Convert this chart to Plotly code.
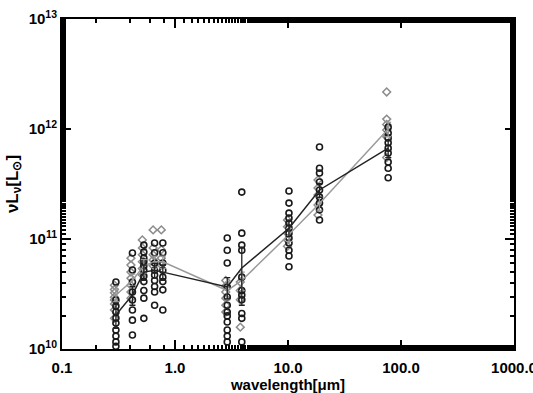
import plotly.graph_objects as go

# band wavelengths (micron)
bands = [0.3, 0.42, 0.53, 0.66, 0.78, 2.9, 3.9, 10.2, 19.0, 77.0]

# individual measurements, units of 1e10 Lsun (black open circles)
circ = {
    0.3: [4.06, 2.79, 2.46, 2.17, 1.91, 1.72, 1.49, 1.31, 1.16, 1.06],
    0.42: [7.46, 5.23, 4.06, 3.30, 2.79, 2.26, 1.83, 1.34],
    0.53: [8.8, 7.6, 6.7, 6.2, 5.7, 5.2, 4.6, 4.1, 3.4, 2.9, 1.9],
    0.66: [9.2, 7.5, 6.05, 5.2, 4.7, 4.2, 3.7, 3.3, 2.5],
    0.78: [9.2, 7.5, 6.05, 5.2, 4.5, 4.1, 3.45, 2.26],
    2.9: [10.2, 7.9, 6.05, 3.66, 2.97, 2.5, 2.17, 2.0, 1.76, 1.49, 1.31, 1.16],
    3.9: [26.7, 11.3, 8.8, 7.9, 4.5, 3.4, 3.1, 2.8, 2.1, 1.9, 1.16],
    10.2: [27.3, 21.2, 17.2, 15.5, 14.0, 12.6, 11.3, 10.2, 9.2, 7.9, 7.0, 5.6],
    19.0: [68.6, 44.0, 39.8, 33.0, 27.9, 24.1, 21.2, 18.4, 14.9],
    77.0: [104, 92, 83, 75, 67, 60.5, 50, 44, 36],
}
# second sample (grey diamonds)
diam = {
    0.3: [3.8, 3.47, 3.24, 2.95, 2.79, 2.57, 2.26, 1.9],
    0.42: [6.7, 5.8, 5.0, 4.4, 3.8, 3.3, 2.9],
    0.53: [9.8, 8.3, 7.2, 6.2, 5.4, 4.7],
    0.66: [12.1, 8.3, 7.2, 6.45, 5.7],
    0.78: [12.1, 8.0, 6.7, 5.8],
    2.9: [4.2, 3.74, 3.3, 2.9, 2.5, 2.17],
    3.9: [4.06, 3.4, 2.8, 1.58],
    10.2: [14.9, 12.9, 11.3, 9.8, 8.6],
    19.0: [34.4, 29.1, 25.1, 20.4, 16.5],
    77.0: [217, 123, 110, 98, 85, 55],
}
# mean SEDs (1e10 Lsun) and errors
mean_black = [2.04, 3.1, 5.0, 5.2, 5.0, 3.66, 5.45, 12.5, 27.9, 67.0]
err_black = [0.5, 0.6, 0.8, 0.8, 0.8, 0.8, 2.95, 2.0, 4.0, 12.0]
mean_grey = [3.1, 4.2, 5.7, 6.2, 6.2, 3.4, 4.2, 11.0, 21.0, 100.0]
err_grey = [0.4, 0.6, 0.8, 0.8, 0.8, 0.6, 0.8, 1.5, 3.0, 15.0]

unit = 1e10

fig = go.Figure()

dx, dy = [], []
for w, vals in diam.items():
    for v in vals:
        dx.append(w * 0.97)
        dy.append(v * unit)
fig.add_trace(go.Scatter(x=dx, y=dy, mode="markers",
                         marker=dict(symbol="diamond-open", size=6, color="#8c8c8c",
                                     line=dict(width=1.5, color="#8c8c8c")),
                         showlegend=False))

cx, cy = [], []
for w, vals in circ.items():
    for v in vals:
        cx.append(w)
        cy.append(v * unit)
fig.add_trace(go.Scatter(x=cx, y=cy, mode="markers",
                         marker=dict(symbol="circle-open", size=6, color="#1a1a1a",
                                     line=dict(width=1.6, color="#1a1a1a")),
                         showlegend=False))

fig.add_trace(go.Scatter(x=bands, y=[m * unit for m in mean_grey], mode="lines",
                         line=dict(color="#9a9a9a", width=1.5),
                         error_y=dict(type="data", array=[e * unit for e in err_grey],
                                      color="#9a9a9a", thickness=1.3, width=3),
                         showlegend=False))
fig.add_trace(go.Scatter(x=bands, y=[m * unit for m in mean_black], mode="lines",
                         line=dict(color="#222222", width=1.5),
                         error_y=dict(type="data", array=[e * unit for e in err_black],
                                      color="#222222", thickness=1.3, width=3),
                         showlegend=False))

xt_vals = [0.1, 1, 10, 100, 1000]
xt_text = ["0.1", "1.0", "10.0", "100.0", "1000.0"]
yt_vals = [1e10, 1e11, 1e12, 1e13]
yt_text = ["10<sup>10</sup>", "10<sup>11</sup>", "10<sup>12</sup>", "10<sup>13</sup>"]

font = dict(family="Liberation Sans, Arial, sans-serif", size=15, color="black", weight="bold")
tfont = dict(family="Liberation Sans, Arial, sans-serif", size=15, color="black", weight="bold")

axis_common = dict(type="log", showline=True, linecolor="black", linewidth=2, mirror="allticks",
                   ticks="inside", ticklen=9, tickwidth=1.8, tickcolor="black",
                   showgrid=False, zeroline=False, tickfont=font, ticklabeloverflow="allow",
                   minor=dict(ticks="inside", ticklen=4, tickwidth=1.5, tickcolor="black",
                              showgrid=False))

fig.update_xaxes(range=[-1, 3], tickvals=xt_vals, ticktext=xt_text, ticklabelstandoff=4,
                 title=dict(text="wavelength[μm]", font=tfont, standoff=2),
                 **axis_common)
fig.update_yaxes(range=[10, 13], tickvals=yt_vals, ticktext=yt_text,
                 title=dict(text="νL<sub>ν</sub>[L<sub>⊙</sub>]", font=dict(
                     family="Liberation Sans, Arial, sans-serif", size=17, color="black", weight="bold"),
                            standoff=6),
                 **axis_common)

fig.update_layout(width=533, height=393, margin=dict(l=62, r=19, t=19, b=44, autoexpand=False),
                  plot_bgcolor="white", paper_bgcolor="white")

fig.write_html("out.html")
